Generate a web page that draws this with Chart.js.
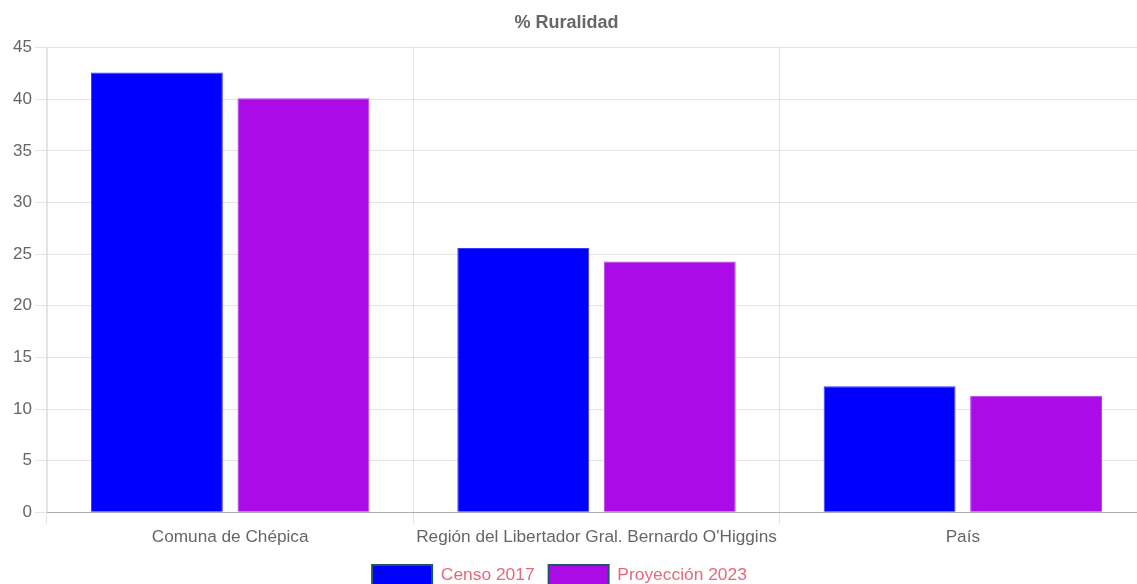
<!DOCTYPE html>
<html>
<head>
<meta charset="utf-8">
<script src="https://cdn.jsdelivr.net/npm/chart.js@4/dist/chart.umd.min.js"></script>
<style>
  html, body { margin: 0; padding: 0; background: #ffffff; overflow: hidden; }
  #wrap { width: 1146px; height: 598px; position: relative; }
</style>
</head>
<body>
<div id="wrap"><canvas id="c"></canvas></div>
<script>
const categories = ["Comuna de Chépica", "Región del Libertador Gral. Bernardo O'Higgins", "País"];
const seriesNames = ["Censo 2017", "Proyección 2023"];
const censo2017 = [42.6, 25.6, 12.2];
const proyeccion2023 = [40.1, 24.3, 11.3];
const yTicks = [0, 5, 10, 15, 20, 25, 30, 35, 40, 45];
const chartTitle = "% Ruralidad";

const FONT = "Arial, 'Liberation Sans', Helvetica, sans-serif";

const legendShift = {
  id: 'legendShift',
  afterLayout(chart) {
    if (chart.legend) { chart.legend.left -= 7; chart.legend.right -= 7; }
  }
};

new Chart(document.getElementById('c'), {
  type: 'bar',
  plugins: [legendShift],
  data: {
    labels: categories,
    datasets: [
      { label: seriesNames[0], data: censo2017, backgroundColor: '#0000ff', borderColor: '#3b3bff', borderWidth: 1 },
      { label: seriesNames[1], data: proyeccion2023, backgroundColor: '#aa0be6', borderColor: '#b93bec', borderWidth: 1 }
    ]
  },
  options: {
    responsive: true,
    maintainAspectRatio: false,
    animation: false,
    layout: { padding: { left: -13, right: 0, top: 0, bottom: 3 } },
    plugins: {
      title: {
        display: true,
        text: chartTitle,
        color: '#666666',
        font: { family: FONT, size: 18, weight: 'bold' },
        padding: { top: 12, bottom: 14 }
      },
      legend: {
        position: 'bottom',
        labels: {
          color: '#e8677c',
          boxWidth: 60,
          boxHeight: 20,
          padding: 14,
          font: { family: FONT, size: 17.4 },
          generateLabels: function(chart) {
            const items = Chart.defaults.plugins.legend.labels.generateLabels(chart);
            items.forEach(it => { it.strokeStyle = '#1d5566'; it.lineWidth = 2; });
            return items;
          }
        }
      },
      tooltip: { enabled: false }
    },
    scales: {
      x: {
        grid: { color: 'rgba(0,0,0,0.1)', offset: true, tickLength: 12 },
        border: { color: 'rgba(0,0,0,0.25)' },
        ticks: { color: '#666666', padding: 3, maxRotation: 0, minRotation: 0, autoSkip: false, font: { family: FONT, size: 17.2 } }
      },
      y: {
        min: 0,
        max: 45,
        afterFit: function(scale) { scale.width = 60; },
        afterBuildTicks: function(scale) { scale.ticks = yTicks.map(v => ({ value: v })); },
        grid: { color: 'rgba(0,0,0,0.1)', tickLength: 12 },
        border: { color: 'rgba(0,0,0,0.1)' },
        ticks: { color: '#666666', padding: 3, font: { family: FONT, size: 17 } }
      }
    }
  }
});
</script>
</body>
</html>
